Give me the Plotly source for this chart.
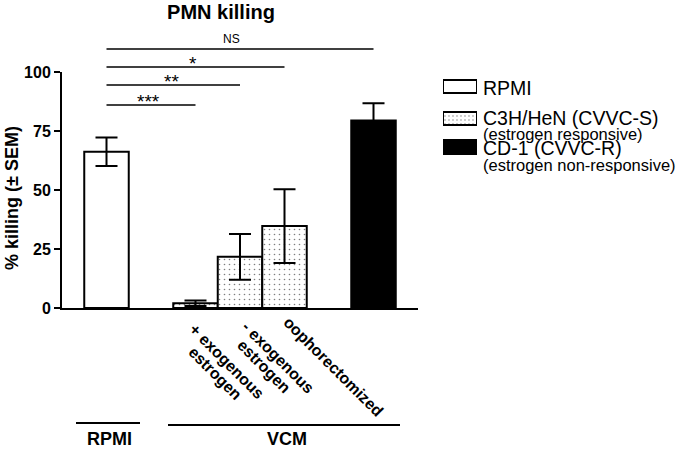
import plotly.graph_objects as go

# ---------------- data ----------------
rpmi_label = ["RPMI"]
rpmi_mean = [66.2]
rpmi_sem = [6.0]

c3h_labels = ["+ exogenous<br>estrogen", "- exogenous<br>estrogen", "oophorectomized"]
c3h_mean = [2.0, 21.7, 34.7]
c3h_sem = [1.2, 9.7, 15.6]

cd1_label = ["CD-1"]
cd1_mean = [79.4]
cd1_sem = [7.4]

y_ticks = [0, 25, 50, 75, 100]
sig_labels = ["***", "**", "*", "NS"]

legend_names = ["RPMI", "C3H/HeN (CVVC-S)", "CD-1 (CVVC-R)"]
legend_subs = ["", "(estrogen responsive)", "(estrogen non-responsive)"]
group_names = ["RPMI", "VCM"]

# ---------------- layout helpers ----------------
W, H = 680, 450
def px(p):
    return p / W
def py(p):
    return 1 - p / H

rpmi_pos = [0]
c3h_pos = [2, 3, 4]
cd1_pos = [6]

FONT = "Liberation Sans"
err = dict(type="data", color="black", thickness=2, width=11, visible=True)

fig = go.Figure()
fig.add_trace(go.Bar(
    x=rpmi_pos, y=rpmi_mean, width=1,
    marker=dict(color="white", line=dict(color="black", width=2)),
    error_y=dict(array=rpmi_sem, **err), showlegend=False))
fig.add_trace(go.Bar(
    x=c3h_pos, y=c3h_mean, width=1,
    marker=dict(color="white", line=dict(color="black", width=2),
                pattern=dict(shape=".", fgcolor="black", bgcolor="white", size=5, solidity=0.08)),
    error_y=dict(array=c3h_sem, **err), showlegend=False))
fig.add_trace(go.Bar(
    x=cd1_pos, y=cd1_mean, width=1,
    marker=dict(color="black", line=dict(color="black", width=2)),
    error_y=dict(array=cd1_sem, **err), showlegend=False))

# legend swatches drawn on a hidden helper axis
sw_base = [63, 31, 2]
sw_h = [13, 13, 14]
sw_styles = [
    dict(color="white", line=dict(color="black", width=2)),
    dict(color="white", line=dict(color="black", width=2),
         pattern=dict(shape=".", fgcolor="black", bgcolor="white", size=4, solidity=0.1)),
    dict(color="black", line=dict(color="black", width=2)),
]
for b, h, st in zip(sw_base, sw_h, sw_styles):
    fig.add_trace(go.Bar(x=[0.5], y=[h], base=[b], width=1, marker=st,
                         xaxis="x2", yaxis="y2", cliponaxis=False, showlegend=False))

shapes = []
annotations = []

# rotated category labels (one annotation per line, centred lines)
line_offsets = [[(31.6, 361.0), (19.8, 373.9)],
                [(38.2, 357.5), (24.1, 366.6)],
                [(48.8, 366.3)]]
for pos, lab, offs in zip(c3h_pos, c3h_labels, line_offsets):
    for line, (dx, yc) in zip(lab.split("<br>"), offs):
        annotations.append(dict(text=line, xref="x", yref="paper", x=pos, xshift=dx, y=py(yc),
                                xanchor="center", yanchor="middle", textangle=45, showarrow=False,
                                font=dict(family=FONT, size=16, color="black", weight="bold")))

# significance brackets
sig_targets = [c3h_pos[0], c3h_pos[1], c3h_pos[2], cd1_pos[0]]
sig_y = [105, 85, 67, 49]
for lab, tgt, yy in zip(sig_labels, sig_targets, sig_y):
    shapes.append(dict(type="line", xref="x", yref="paper", x0=rpmi_pos[0], x1=tgt,
                       y0=py(yy), y1=py(yy), line=dict(color="black", width=1.5)))
    if lab == "NS":
        annotations.append(dict(text=lab, xref="x", yref="paper", x=(rpmi_pos[0] + tgt) / 2 - 0.18,
                                y=py(yy - 1), yanchor="bottom", showarrow=False,
                                font=dict(family=FONT, size=12, color="black")))
    else:
        annotations.append(dict(text=lab, xref="x", yref="paper", x=(rpmi_pos[0] + tgt) / 2 - 0.05,
                                y=py(yy + 9), yanchor="bottom", showarrow=False,
                                font=dict(family=FONT, size=19, color="black")))

# group lines and labels
shapes.append(dict(type="line", xref="paper", yref="paper", x0=px(76), x1=px(140),
                   y0=py(423), y1=py(423), line=dict(color="black", width=2)))
shapes.append(dict(type="line", xref="paper", yref="paper", x0=px(168), x1=px(400),
                   y0=py(425), y1=py(425), line=dict(color="black", width=2)))
for name, cx in zip(group_names, [109, 287]):
    annotations.append(dict(text=name, xref="paper", yref="paper", x=px(cx), y=py(438.5),
                            xanchor="center", yanchor="middle", showarrow=False,
                            font=dict(family=FONT, size=18, color="black", weight="bold")))

# legend text
MAIN = "<span style='font-size:19.5px'>%s</span>"
SUB = "<span style='font-size:16.5px'>%s</span>"
annotations.append(dict(text=MAIN % legend_names[0], xref="paper", yref="paper", x=px(481),
                        y=py(88.4), xanchor="left", yanchor="middle", showarrow=False,
                        font=dict(family=FONT, size=11.7, color="black")))
block = "<br>".join([MAIN % legend_names[1], SUB % legend_subs[1],
                     MAIN % legend_names[2], SUB % legend_subs[2]])
annotations.append(dict(text=block, xref="paper", yref="paper", x=px(481), y=py(104.7),
                        xanchor="left", yanchor="top", align="left", showarrow=False,
                        font=dict(family=FONT, size=11.7, color="black")))

# y-axis title
annotations.append(dict(text="% killing (± SEM)", xref="paper", yref="paper", x=px(12), y=py(198),
                        xanchor="center", yanchor="middle", textangle=-90, showarrow=False,
                        font=dict(family=FONT, size=18, color="black", weight="bold")))

fig.update_layout(
    width=W, height=H,
    margin=dict(l=0, r=0, t=0, b=0, autoexpand=False),
    paper_bgcolor="white", plot_bgcolor="white",
    barmode="overlay",
    title=dict(text="PMN killing", x=px(221), y=py(12), xanchor="center", yanchor="middle",
               xref="paper", yref="paper", automargin=False,
               font=dict(family=FONT, size=20, color="black", weight="bold")),
    xaxis=dict(domain=[px(62), px(418)], range=[-1, 7], showline=True, linecolor="black",
               linewidth=2, showgrid=False, zeroline=False, ticks="", automargin=False,
               showticklabels=False),
    yaxis=dict(domain=[py(308), py(72)], range=[0, 100], showline=True, linecolor="black",
               linewidth=2, showgrid=False, zeroline=False, ticks="outside", ticklen=6,
               tickwidth=2, tickcolor="black", tickvals=y_ticks, automargin=False,
               tickfont=dict(family=FONT, size=16, color="black", weight="bold")),
    xaxis2=dict(domain=[px(443), px(477)], range=[0, 1], visible=False, anchor="y2",
                automargin=False),
    yaxis2=dict(domain=[py(156), py(78)], range=[0, 78], visible=False, anchor="x2",
                automargin=False),
    shapes=shapes, annotations=annotations,
    font=dict(family=FONT, color="black"),
)

fig.write_html("out.html", config={"displayModeBar": False},
               post_script="document.body.style.margin='0px';")
